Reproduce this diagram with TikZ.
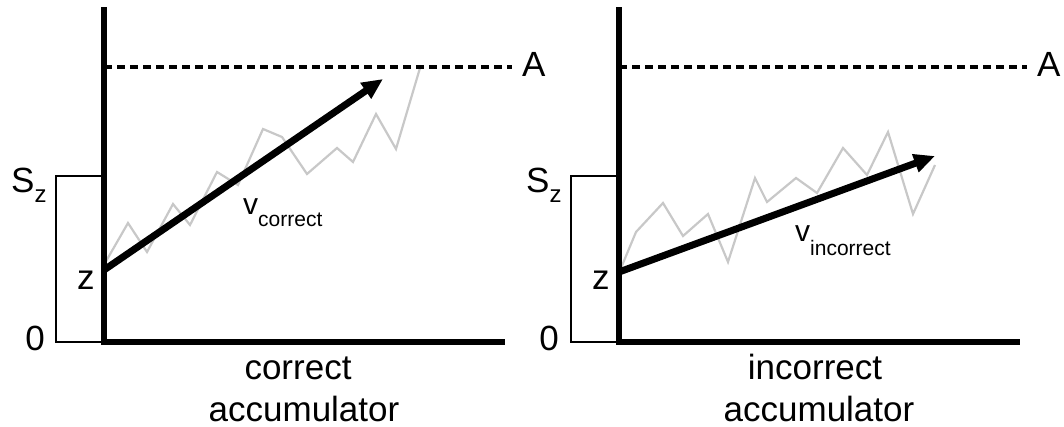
\documentclass[tikz,border=0pt]{standalone}
\usepackage{fontspec}
\setmainfont{Liberation Sans}
\usetikzlibrary{arrows.meta}
\newcommand{\bigf}{\fontsize{35}{42}\selectfont}
\newcommand{\midf}{\fontsize{30}{32}\selectfont}
\newcommand{\subf}{\fontsize{21}{22}\selectfont}
\tikzset{
  axis/.style={line width=5.5pt, line cap=rect},
  thresh/.style={line width=3.2pt, dash pattern=on 8pt off 5pt},
  startbox/.style={line width=2.2pt},
  walk/.style={line width=2.2pt, draw={rgb,255:red,200;green,200;blue,200}, line join=miter},
  drift/.style={line width=7pt, -{Triangle[length=21pt,width=18pt]}},
  lbl/.style={inner sep=0pt, anchor=base, font=\bigf, text depth=0pt},
  lblw/.style={inner sep=0pt, anchor=base west, font=\bigf},
}
\begin{document}
\begin{tikzpicture}[x=1pt,y=-1pt]
\useasboundingbox (0,0) rectangle (1064,427);
% ---------- left panel ----------
\coordinate (Ltop) at (104,10);
\coordinate (Lor) at (104,342);
\coordinate (Lend) at (502,342);
\coordinate (Lda) at (104,67);
\coordinate (Ldb) at (512,67);
\coordinate (Lz) at (104,270);
\coordinate (Ltip) at (383,79);
\draw[walk] (105,263) -- (128,223) -- (147,252) -- (173,204) -- (190,225) -- (217,172) -- (238,185) -- (263,129) -- (282,137) -- (307,174) -- (337,148) -- (353,162) -- (376,114) -- (396,149) -- (420,68);
\draw[startbox] (104,176) -- (56,176) -- (56,342) -- (104,342);
\draw[thresh] (Lda) -- (Ldb);
\draw[axis] (Ltop) -- (Lor) -- (Lend);
\draw[drift] (Lz) -- (Ltip);
\node[lblw] (LA) at (522,77) {A};
\node[lblw] (LS) at (11,193) {S\raisebox{-10pt}{\fontsize{24}{24}\selectfont z}};
\node[lblw] (Lzl) at (77,290) {z};
\node[lbl] (L0) at (35,350) {0};
\node[lblw] (Lv) at (243,215) {\midf v\raisebox{-12pt}{\subf correct}};
\node[lbl] (Lc1) at (298,379) {correct};
\node[lbl] (Lc2) at (304,421) {accumulator};
% ---------- right panel ----------
\coordinate (Rtop) at (619,10);
\coordinate (Ror) at (619,342);
\coordinate (Rend) at (1017,342);
\coordinate (Rda) at (619,67);
\coordinate (Rdb) at (1027,67);
\coordinate (Rz) at (619,272);
\coordinate (Rtip) at (935,156);
\draw[walk] (621,268) -- (636,232) -- (663,203) -- (683,236) -- (708,214) -- (728,262) -- (755,178) -- (767,202) -- (796,178) -- (817,193) -- (843,148) -- (867,175) -- (888,132) -- (913,214) -- (935,165);
\draw[startbox] (619,176) -- (571,176) -- (571,342) -- (619,342);
\draw[thresh] (Rda) -- (Rdb);
\draw[axis] (Rtop) -- (Ror) -- (Rend);
\draw[drift] (Rz) -- (Rtip);
\node[lblw] (RA) at (1037,77) {A};
\node[lblw] (RS) at (526,193) {S\raisebox{-10pt}{\fontsize{24}{24}\selectfont z}};
\node[lblw] (Rzl) at (592,290) {z};
\node[lbl] (R0) at (549,350) {0};
\node[lblw] (Rv) at (795,242) {\midf v\raisebox{-14pt}{\subf incorrect}};
\node[lbl] (Rc1) at (815,379) {incorrect};
\node[lbl] (Rc2) at (819,421) {accumulator};
\end{tikzpicture}
\end{document}
